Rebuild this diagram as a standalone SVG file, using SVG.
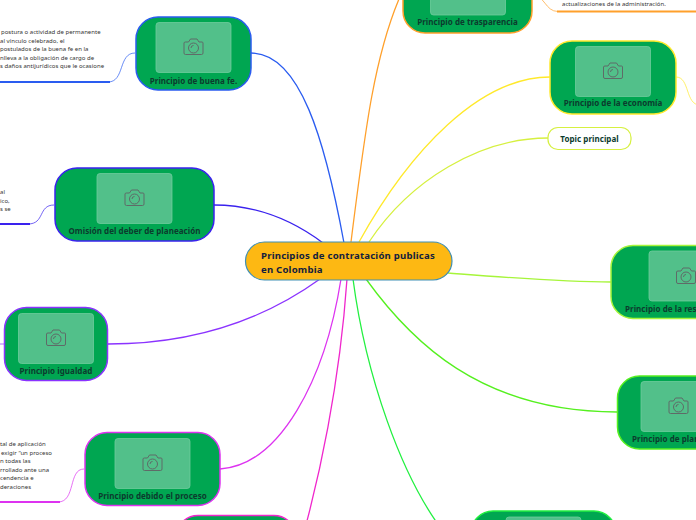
<svg xmlns="http://www.w3.org/2000/svg" width="696" height="520" viewBox="0 0 696 520">
<style>
text{font-family:"Noto Sans","Open Sans","DejaVu Sans",sans-serif}
.n{fill:#00a651;stroke-width:1.5}
.i{fill:#52c08a;stroke:#6fcb9d;stroke-width:.8}
.l{font-size:8px;font-weight:700;fill:#0c3b2e;text-anchor:middle;letter-spacing:.05px}
.t{font-size:6px;fill:#333;letter-spacing:.02px}
.c{fill:none;stroke-width:1.3}
.u{fill:none;stroke-width:2}
.s{fill:none;stroke-width:.7}
.cam{fill:none;stroke:#5f6b68;stroke-width:1}
</style>
<defs>
<g id="cam" class="cam">
<path d="M-8 -5H-5L-3 -8H3.5L5.5 -5H8.5Q9.5 -5 9.5 -4V6Q9.5 7.5 8 7.5H-8Q-9.5 7.5 -9.5 6V-4Q-9.5 -5 -8 -5Z"/>
<circle cx="0" cy="1" r="5"/>
<path d="M-2.5 1A2.5 2.5 0 0 1 0 -1.5"/>
</g>
</defs>
<g id="connectors">
<path class="c" stroke="#2a5cf0" d="M251 53C300 53 325 140 344 243"/>
<path class="c" stroke="#3a22ee" d="M214 205C260 205 295 222 323 243"/>
<path class="c" stroke="#8b33ff" d="M108 344C200 344 270 315 320 279"/>
<path class="c" stroke="#dd33f0" d="M220 469C280 465 325 380 341 279"/>
<path class="c" stroke="#f026cc" d="M296 560C320 480 340 380 347 279"/>
<path class="c" stroke="#22f040" d="M353 279C365 370 400 480 450 540"/>
<path class="c" stroke="#55f01f" d="M366 279C410 340 480 412 617 412"/>
<path class="c" stroke="#a6f53a" d="M448 273C500 277 560 282 611 282"/>
<path class="c" stroke="#d6f040" d="M369 242C410 180 480 138 548 138"/>
<path class="c" stroke="#ffe92b" d="M359 242C410 150 480 77 550 77"/>
<path class="c" stroke="#ffa02b" d="M351 242C365 130 375 50 403 -10"/>
<path class="s" stroke="#2a5cf0" d="M135 53C118 53 125 82 108 82"/>
<path class="u" stroke="#2a5cf0" d="M0 82H110"/>
<path class="s" stroke="#3a22ee" d="M54 205C38 205 45 224 28 224"/>
<path class="u" stroke="#3a22ee" d="M0 224H30"/>
<path class="s" stroke="#8b33ff" d="M0 344H4"/>
<path class="s" stroke="#dd33f0" d="M84 469C68 469 76 502 58 502"/>
<path class="u" stroke="#dd33f0" d="M0 502H60"/>
<path class="s" stroke="#ffa02b" d="M532 -5C545 -5 545 11.500 558 11.500"/>
<path class="u" stroke="#ffa02b" d="M557 11.500H696"/>
<path class="s" stroke="#ffe92b" d="M676 77C690 77 685 105 700 105"/>
</g>
<g id="note-buena-fe">
<text class="t" x="1" y="34">postura o actividad de permanente</text>
<text class="t" x="0" y="43">al vínculo celebrado, el</text>
<text class="t" x="0" y="51">postulados de la buena fe en la</text>
<text class="t" x="0" y="60">nlleva a la obligación de cargo de</text>
<text class="t" x="0" y="68">s daños antijurídicos que le ocasione</text>
</g>
<g id="note-omision">
<text class="t" x="0" y="194">al</text>
<text class="t" x="0" y="202.500">ico,</text>
<text class="t" x="0" y="211">s se</text>
</g>
<g id="note-debido">
<text class="t" x="0" y="446">tal de aplicación</text>
<text class="t" x="1" y="454.500">exigir “un proceso</text>
<text class="t" x="0" y="463">n todas las</text>
<text class="t" x="0" y="471.500">rrollado ante una</text>
<text class="t" x="0" y="480">cendencia e</text>
<text class="t" x="0" y="488.500">deraciones</text>
</g>
<g id="note-trasparencia">
<text class="t" x="562" y="6">actualizaciones de la administración.</text>
</g>
<g id="node-buena-fe">
<rect class="n" stroke="#2a5cf0" x="136" y="17" width="115" height="73" rx="22"/>
<rect class="i" x="156" y="22.500" width="75" height="50" rx="3"/>
<use href="#cam" x="193.500" y="47"/>
<text class="l" x="193.500" y="83.500">Principio de buena fe.</text>
</g>
<g id="node-omision">
<rect class="n" stroke="#3a22ee" x="55" y="168" width="159" height="73" rx="22"/>
<rect class="i" x="97" y="173.500" width="75" height="50" rx="3"/>
<use href="#cam" x="134.500" y="198"/>
<text class="l" x="134.500" y="234">Omisión del deber de planeación</text>
</g>
<g id="node-igualdad">
<rect class="n" stroke="#8b33ff" x="4.500" y="307.500" width="103" height="73" rx="22"/>
<rect class="i" x="18.500" y="313.500" width="75" height="50" rx="3"/>
<use href="#cam" x="56" y="338"/>
<text class="l" x="56" y="374">Principio igualdad</text>
</g>
<g id="node-debido">
<rect class="n" stroke="#dd33f0" x="85" y="432.500" width="135" height="73" rx="22"/>
<rect class="i" x="115" y="438.500" width="75" height="50" rx="3"/>
<use href="#cam" x="152.500" y="463"/>
<text class="l" x="152.500" y="499">Principio debido el proceso</text>
</g>
<g id="node-inferior-magenta">
<rect class="n" stroke="#f026cc" x="176" y="515.500" width="120" height="73" rx="22"/>
</g>
<g id="node-trasparencia">
<rect class="n" stroke="#ffa02b" x="403" y="-40" width="129" height="73" rx="22"/>
<rect class="i" x="430.500" y="-35" width="75" height="50" rx="3"/>
<text class="l" x="467.500" y="25">Principio de trasparencia</text>
</g>
<g id="node-economia">
<rect class="n" stroke="#ffe92b" x="550" y="41" width="126" height="73" rx="22"/>
<rect class="i" x="575.500" y="46.500" width="75" height="50" rx="3"/>
<use href="#cam" x="613" y="71"/>
<text class="l" x="613" y="106">Principio de la economía</text>
</g>
<g id="node-topic">
<rect fill="#fff" stroke="#d6f040" stroke-width="1.200" x="548" y="127.500" width="83" height="22" rx="10"/>
<text class="l" x="589.500" y="142">Topic principal</text>
</g>
<g id="node-responsabilidad">
<rect class="n" stroke="#a6f53a" x="611" y="245.500" width="130" height="73" rx="22"/>
<rect class="i" x="649" y="251" width="75" height="50" rx="3"/>
<use href="#cam" x="686" y="276"/>
<text class="l" style="text-anchor:start" x="625" y="311.500">Principio de la res</text>
</g>
<g id="node-planeacion">
<rect class="n" stroke="#55f01f" x="617.500" y="376" width="130" height="73" rx="22"/>
<rect class="i" x="641" y="381.500" width="75" height="50" rx="3"/>
<use href="#cam" x="678.500" y="406"/>
<text class="l" style="text-anchor:start" x="632" y="441.500">Principio de plan</text>
</g>
<g id="node-inferior-verde">
<rect class="n" stroke="#22f040" x="471" y="511" width="145" height="73" rx="22"/>
<rect class="i" x="506" y="517" width="75" height="50" rx="3"/>
</g>
<g id="node-central">
<rect fill="#fdb813" stroke="#3f8fb5" stroke-width="1.200" x="245.500" y="242" width="206.500" height="38" rx="19"/>
<text font-size="9.600px" font-weight="700" fill="#14213d" letter-spacing=".2" x="261" y="258.500">Principios de contratación publicas</text>
<text font-size="9.600px" font-weight="700" fill="#14213d" letter-spacing=".2" x="261" y="272.500">en Colombia</text>
</g>
</svg>
